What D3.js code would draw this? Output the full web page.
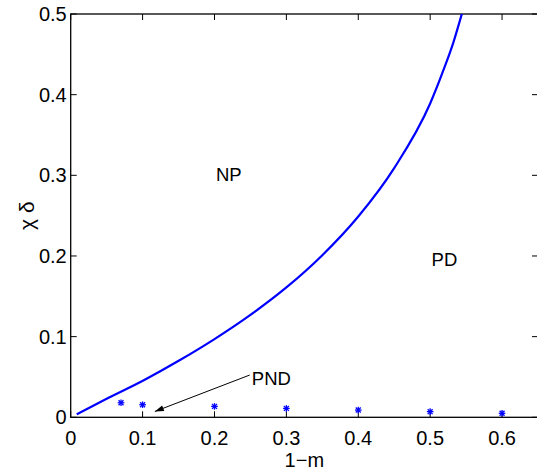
<!DOCTYPE html>
<html><head><meta charset="utf-8">
<script src="https://cdn.jsdelivr.net/npm/d3@7"></script>
<style>body{margin:0;background:#fff}svg{display:block}text{font-family:"Liberation Sans",Arial,Helvetica,sans-serif}</style>
</head><body><svg id="c" width="537" height="470"></svg>
<script>
const xTicks=[0,0.1,0.2,0.3,0.4,0.5,0.6];
const yTicks=[0,0.1,0.2,0.3,0.4,0.5];
const curveX=[0.0083,0.05,0.1017,0.152,0.2,0.25,0.3,0.35,0.4,0.45,0.5,0.52,0.532,0.544];
const curveY=[0.0037,0.023,0.046,0.071,0.097,0.127,0.161,0.201,0.249,0.309,0.389,0.434,0.464,0.500];
const starX=[0.07,0.1,0.2,0.3,0.4,0.5,0.6];
const starY=[0.018,0.0156,0.0135,0.011,0.009,0.007,0.005];
const regionLabels=["NP","PD"];
const regionX=[0.202,0.502];
const regionY=[0.293,0.188];

const svg=d3.select("#c");
const L=70.7,R=538,T=14,B=417.3;
const x=d3.scaleLinear().domain([0,0.65]).range([L,R]);
const y=d3.scaleLinear().domain([0,0.5]).range([B,T]);
const fs=20, fr=18.5;

svg.append("rect").attr("x",L).attr("y",T).attr("width",R-L).attr("height",B-T)
  .attr("fill","none").attr("stroke","#000").attr("stroke-width",1.3);

const tl=6;
xTicks.forEach(t=>{
  svg.append("line").attr("x1",x(t)).attr("x2",x(t)).attr("y1",B).attr("y2",B-tl).attr("stroke","#000");
  svg.append("line").attr("x1",x(t)).attr("x2",x(t)).attr("y1",T).attr("y2",T+tl).attr("stroke","#000");
  svg.append("text").attr("x",x(t)).attr("y",B+28).attr("text-anchor","middle").attr("font-size",fs).text(d3.format("")(t));
});
yTicks.forEach(t=>{
  svg.append("line").attr("x1",L).attr("x2",L+tl).attr("y1",y(t)).attr("y2",y(t)).attr("stroke","#000");
  svg.append("line").attr("x1",R).attr("x2",R-tl).attr("y1",y(t)).attr("y2",y(t)).attr("stroke","#000");
  svg.append("text").attr("x",L-4).attr("y",y(t)+7).attr("text-anchor","end").attr("font-size",fs).text(d3.format("")(t));
});

svg.append("text").attr("x",(L+R)/2).attr("y",467).attr("text-anchor","middle").attr("font-size",fs).text("1\u2212m");
svg.append("text").attr("transform","translate(34,"+((T+B)/2)+") rotate(-90)").attr("text-anchor","middle").attr("font-size",fs+1).text("\u03c7 \u03b4");

const pts=curveX.map((d,i)=>[d,curveY[i]]);
svg.append("path").datum(pts).attr("fill","none").attr("stroke","#0000ff").attr("stroke-width",2.2)
  .attr("d",d3.line().x(d=>x(d[0])).y(d=>y(d[1])).curve(d3.curveMonotoneX));

const r=3.3;
starX.forEach((d,i)=>{
  const cx=x(d),cy=y(starY[i]);
  const g=svg.append("g").attr("stroke","#0000ff").attr("stroke-width",1.3);
  g.append("line").attr("x1",cx-r).attr("x2",cx+r).attr("y1",cy).attr("y2",cy);
  g.append("line").attr("x1",cx).attr("x2",cx).attr("y1",cy-r).attr("y2",cy+r);
  const q=r*0.75;
  g.append("line").attr("x1",cx-q).attr("x2",cx+q).attr("y1",cy-q).attr("y2",cy+q);
  g.append("line").attr("x1",cx-q).attr("x2",cx+q).attr("y1",cy+q).attr("y2",cy-q);
});

regionLabels.forEach((s,i)=>{
  svg.append("text").attr("x",x(regionX[i])).attr("y",y(regionY[i])).attr("font-size",fr).text(s);
});

const ax0=0.249,ay0=0.0524,ax1=0.117,ay1=0.0072;
const x0=x(ax0),y0=y(ay0),x1=x(ax1),y1=y(ay1);
svg.append("line").attr("x1",x0).attr("y1",y0).attr("x2",x1).attr("y2",y1).attr("stroke","#000").attr("stroke-width",1);
const ang=Math.atan2(y1-y0,x1-x0), hl=9, hw=3;
const bx=x1-hl*Math.cos(ang), by=y1-hl*Math.sin(ang);
svg.append("path").attr("d",`M${x1},${y1}L${bx+hw*Math.sin(ang)},${by-hw*Math.cos(ang)}L${bx-hw*Math.sin(ang)},${by+hw*Math.cos(ang)}Z`).attr("fill","#000");
svg.append("text").attr("x",x(0.252)).attr("y",y(0.040)).attr("font-size",fr).text("PND");
</script></body></html>
